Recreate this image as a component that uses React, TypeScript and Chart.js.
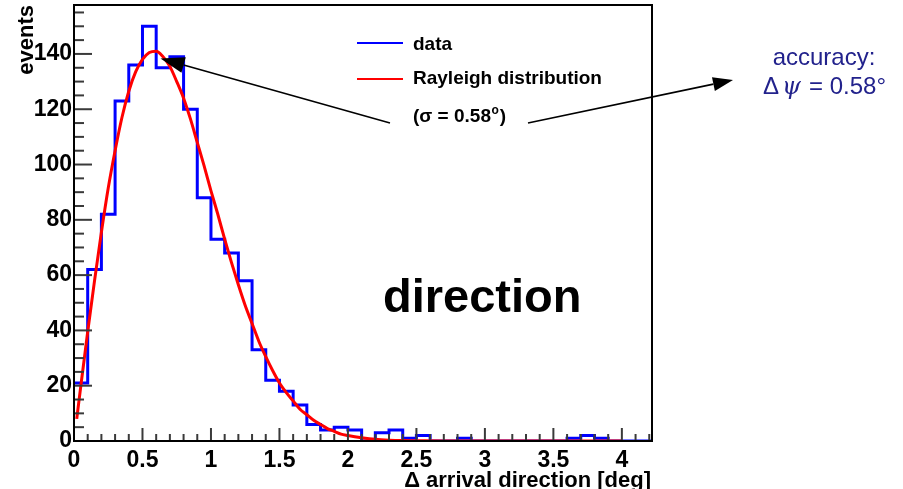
import React, { useEffect, useRef } from 'react';
import { Chart, registerables } from 'chart.js';

Chart.register(...registerables);

// ---- data ----
const binEdges = [
  0, 0.1, 0.2, 0.3, 0.4, 0.5, 0.6, 0.7, 0.8, 0.9,
  1.0, 1.1, 1.2, 1.3, 1.4, 1.5, 1.6, 1.7, 1.8, 1.9,
  2.0, 2.1, 2.2, 2.3, 2.4, 2.5, 2.6, 2.7, 2.8, 2.9,
  3.0, 3.1, 3.2, 3.3, 3.4, 3.5, 3.6, 3.7, 3.8, 3.9,
  4.0, 4.1, 4.2,
];
const binCounts = [
  21, 62, 82, 123, 136, 150, 135, 139, 120, 88,
  73, 68, 58, 33, 22, 18, 13, 6, 4, 5,
  4, 0, 3, 4, 1, 2, 0, 0, 1, 0,
  0, 0, 0, 0, 0, 0, 1, 2, 1, 0,
  0, 0, 0,
];
const fitX = [
  0.02, 0.05, 0.1, 0.15, 0.2, 0.25, 0.3, 0.35, 0.4, 0.45, 0.5, 0.55,
  0.6, 0.65, 0.7, 0.75, 0.8, 0.85, 0.9, 0.95, 1.0, 1.05,
  1.1, 1.15, 1.2, 1.25, 1.3, 1.35, 1.4, 1.45, 1.5, 1.55,
  1.6, 1.65, 1.7, 1.75, 1.8, 1.85, 1.9, 1.95, 2.0,
  2.1, 2.2, 2.3, 2.4, 2.5, 2.7, 3.0, 3.5, 4.0,
];
const fitY = [
  8, 20, 39.5, 58, 75.5, 91.5, 105, 117, 126.5, 133.5, 138, 140.5,
  141, 139, 135.5, 130, 124, 116.5, 108, 99.5, 90.5, 82,
  73, 64.5, 56.5, 49, 42.5, 36, 30.5, 25.5, 21, 17.5,
  14.5, 11.5, 9.5, 7.5, 6, 4.5, 3.5, 2.5, 2,
  1.2, 0.6, 0.3, 0.15, 0.1, 0, 0, 0, 0,
];
const xMin = 0;
const xMax = 4.22;
const yMin = 0;
const yMax = 157.7;
const xMajorStep = 0.5;
const xMinorStep = 0.1;
const yMajorStep = 20;
const yMinorStep = 5;

const xTitle = 'Δ arrival direction [deg]';
const yTitle = 'events';
const legendData = 'data';
const legendFit = 'Rayleigh distribution';
const sigmaText = '(σ = 0.58';
const bigLabel = 'direction';
const accLine1 = 'accuracy:';

const FONT = "'Liberation Sans', Arial, Helvetica, sans-serif";

function arrow(ctx: CanvasRenderingContext2D, x0: number, y0: number, x1: number, y1: number, len: number, half: number) {
  const ang = Math.atan2(y0 - y1, x0 - x1);
  const bx = x1 + Math.cos(ang) * len;
  const by = y1 + Math.sin(ang) * len;
  ctx.beginPath();
  ctx.moveTo(x0, y0);
  ctx.lineTo(bx, by);
  ctx.stroke();
  ctx.beginPath();
  ctx.moveTo(x1, y1);
  ctx.lineTo(bx - Math.sin(ang) * half, by + Math.cos(ang) * half);
  ctx.lineTo(bx + Math.sin(ang) * half, by - Math.cos(ang) * half);
  ctx.closePath();
  ctx.fill();
}

const decor = {
  id: 'decor',
  afterDatasetsDraw(chart: any) {
    const { ctx, chartArea: a, scales } = chart;
    const xs = scales.x;
    const ys = scales.y;
    ctx.save();
    // tick marks (inside the frame)
    ctx.strokeStyle = '#3a3a3a';
    ctx.lineWidth = 2;
    const nY = Math.floor((yMax - yMin) / yMinorStep + 1e-6);
    for (let i = 0; i <= nY; i++) {
      const v = yMin + i * yMinorStep;
      const py = ys.getPixelForValue(v);
      const major = Math.abs(v / yMajorStep - Math.round(v / yMajorStep)) < 1e-6;
      ctx.beginPath();
      ctx.moveTo(a.left, py);
      ctx.lineTo(a.left + (major ? 18 : 10), py);
      ctx.stroke();
    }
    const nX = Math.floor((xMax - xMin) / xMinorStep + 1e-6);
    for (let i = 0; i <= nX; i++) {
      const v = xMin + i * xMinorStep;
      const px = xs.getPixelForValue(v);
      const major = Math.abs(v / xMajorStep - Math.round(v / xMajorStep)) < 1e-6;
      ctx.beginPath();
      ctx.moveTo(px, a.bottom);
      ctx.lineTo(px, a.bottom - (major ? 13 : 7));
      ctx.stroke();
    }
    // frame
    ctx.strokeStyle = '#000';
    ctx.lineWidth = 2;
    ctx.strokeRect(a.left, a.top, a.right - a.left, a.bottom - a.top);
    ctx.restore();
  },
  afterDraw(chart: any) {
    const { ctx } = chart;
    ctx.save();
    ctx.fillStyle = '#000';
    // axis titles
    ctx.font = `bold 22px ${FONT}`;
    ctx.textAlign = 'right';
    ctx.textBaseline = 'alphabetic';
    ctx.fillText(xTitle, 651, 487);
    ctx.save();
    ctx.translate(33, 5);
    ctx.rotate(-Math.PI / 2);
    ctx.textAlign = 'right';
    ctx.font = `bold 22px ${FONT}`;
    ctx.fillText(yTitle, 0, 0);
    ctx.restore();

    // legend
    ctx.lineWidth = 2;
    ctx.strokeStyle = '#0000ff';
    ctx.beginPath(); ctx.moveTo(357, 43); ctx.lineTo(403, 43); ctx.stroke();
    ctx.strokeStyle = '#ff0000';
    ctx.beginPath(); ctx.moveTo(357, 79); ctx.lineTo(403, 79); ctx.stroke();
    ctx.textAlign = 'left';
    ctx.font = `bold 19px ${FONT}`;
    ctx.fillText(legendData, 413, 50);
    ctx.fillText(legendFit, 413, 84);
    ctx.fillText(sigmaText, 413, 122);
    const sw = ctx.measureText(sigmaText).width;
    ctx.font = `bold 12px ${FONT}`;
    ctx.fillText('o', 413 + sw + 0.5, 114);
    const ow = ctx.measureText('o').width;
    ctx.font = `bold 19px ${FONT}`;
    ctx.fillText(')', 413 + sw + ow + 1.5, 122);

    // arrows
    ctx.strokeStyle = '#000';
    ctx.fillStyle = '#000';
    ctx.lineWidth = 1.6;
    arrow(ctx, 390, 123, 160.5, 58.5, 24, 8);
    arrow(ctx, 528, 123, 733, 80, 20, 7);

    // big label
    ctx.font = `bold 47px ${FONT}`;
    ctx.fillText(bigLabel, 383, 312);

    // accuracy annotation
    ctx.fillStyle = '#22228c';
    ctx.font = `24px ${FONT}`;
    ctx.textAlign = 'center';
    ctx.fillText(accLine1, 824, 65);
    ctx.textAlign = 'left';
    ctx.font = `24px ${FONT}`;
    ctx.fillText('Δ', 763, 94);
    const dw = ctx.measureText('Δ').width;
    ctx.font = `italic 24px 'DejaVu Serif', 'Liberation Serif', serif`;
    ctx.fillText('ψ', 763 + dw + 3, 94);
    ctx.font = `24px ${FONT}`;
    ctx.fillText('= 0.58°', 809, 94);
    ctx.restore();
  },
};

export default function App() {
  const ref = useRef<HTMLCanvasElement>(null);
  useEffect(() => {
    const histPoints = binEdges.map((x, i) => ({ x, y: binCounts[i] }));
    histPoints.push({ x: xMax, y: binCounts[binCounts.length - 1] });
    const fitPoints = fitX.map((x, i) => ({ x, y: fitY[i] }));
    const tickFont = { family: FONT, size: 23, weight: 'bold' as const };
    const chart = new Chart(ref.current as HTMLCanvasElement, {
      type: 'line',
      data: {
        datasets: [
          {
            label: legendFit,
            data: fitPoints,
            borderColor: '#ff0000',
            borderWidth: 3,
            pointRadius: 0,
            cubicInterpolationMode: 'monotone',
            fill: false,
          },
          {
            label: legendData,
            data: histPoints,
            borderColor: '#0000ff',
            borderWidth: 3,
            pointRadius: 0,
            stepped: 'before',
            fill: false,
          },
        ],
      },
      options: {
        responsive: false,
        animation: false,
        devicePixelRatio: 1,
        layout: { padding: { left: 0, right: 251, top: 5, bottom: 0 } },
        plugins: { legend: { display: false }, tooltip: { enabled: false } },
        scales: {
          x: {
            type: 'linear',
            min: xMin,
            max: xMax,
            grid: { display: false, drawTicks: false },
            border: { display: false },
            afterFit: (s: any) => {
              s.height = 48;
              s.paddingLeft = 0;
              s.paddingRight = 0;
            },
            ticks: {
              stepSize: xMajorStep,
              includeBounds: false,
              autoSkip: false,
              maxRotation: 0,
              padding: 6,
              color: '#000',
              font: tickFont,
              callback: (v: any) => String(Math.round(Number(v) * 10) / 10),
            },
          },
          y: {
            type: 'linear',
            min: yMin,
            max: yMax,
            grid: { display: false, drawTicks: false },
            border: { display: false },
            afterFit: (s: any) => {
              s.width = 74;
              s.paddingTop = 0;
              s.paddingBottom = 0;
            },
            ticks: {
              stepSize: yMajorStep,
              includeBounds: false,
              autoSkip: false,
              padding: 2,
              color: '#000',
              font: tickFont,
            },
          },
        },
      },
      plugins: [decor],
    } as any);
    return () => chart.destroy();
  }, []);
  return (
    <div style={{ position: 'absolute', left: 0, top: 0, width: 903, height: 489, background: '#fff' }}>
      <canvas ref={ref} width={903} height={489} style={{ display: 'block' }} />
    </div>
  );
}
